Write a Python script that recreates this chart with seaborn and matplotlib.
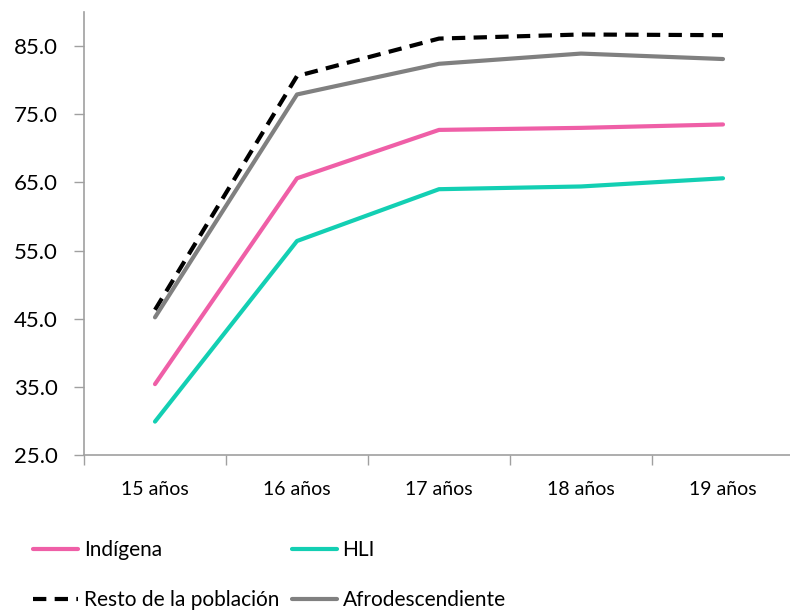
import matplotlib
matplotlib.use("Agg")
import matplotlib.pyplot as plt
import seaborn as sns
import pandas as pd
from matplotlib.ticker import FixedLocator

categories = ["15 años", "16 años", "17 años", "18 años", "19 años"]
indigena = [35.4, 65.6, 72.7, 73.0, 73.5]
hli = [29.9, 56.4, 64.0, 64.4, 65.6]
resto = [46.3, 80.6, 86.1, 86.7, 86.6]
afro = [45.2, 77.9, 82.4, 83.9, 83.1]
yticks = [25, 35, 45, 55, 65, 75, 85]

series_names = ["Indígena", "Resto de la población", "HLI", "Afrodescendiente"]
series_values = [indigena, resto, hli, afro]
colors = {"Indígena": "#EF5FA7", "HLI": "#13CFB3",
          "Resto de la población": "#000000", "Afrodescendiente": "#808080"}
dashes = {"Indígena": "", "HLI": "", "Resto de la población": (3.2, 2.0),
          "Afrodescendiente": ""}

rows = []
for name, vals in zip(series_names, series_values):
    for i, (c, v) in enumerate(zip(categories, vals)):
        rows.append({"pos": i, "cat": c, "serie": name, "valor": v})
df = pd.DataFrame(rows)

sns.set_theme(style="white")
plt.rcParams['font.family'] = ['Lato', 'DejaVu Sans']
plt.rcParams['text.color'] = '#000000'

fig = plt.figure(figsize=(7.9, 6.12), dpi=100)
ax = fig.add_axes([84/790, (612-455)/612, 710/790, (455-12)/612])

sns.lineplot(data=df, x="pos", y="valor", hue="serie", style="serie",
             hue_order=series_names, style_order=series_names,
             palette=colors, dashes=dashes, linewidth=3, ax=ax, legend=False)

ax.set_xlim(-0.5, 4.5)
ax.set_ylim(25, 90)
ax.set_yticks(yticks)
ax.set_yticklabels([f"{v:.1f}" for v in yticks], fontsize=16)
ax.set_xticks(range(5))
ax.set_xticklabels(categories, fontsize=14)
ax.xaxis.set_minor_locator(FixedLocator([-0.5, 0.5, 1.5, 2.5, 3.5, 4.5]))
ax.tick_params(axis="x", which="major", length=0, pad=19, labelcolor="#000000")
ax.tick_params(axis="x", which="minor", length=7, width=1, color="#A0A0A0", direction="out", bottom=True)
ax.tick_params(axis="y", which="major", length=7, width=1, color="#A0A0A0", direction="out", left=True, pad=12, labelcolor="#000000")
ax.set_xlabel("")
ax.set_ylabel("")
for s in ["top", "right"]:
    ax.spines[s].set_visible(False)
for s in ["left", "bottom"]:
    ax.spines[s].set_color("#A0A0A0")
    ax.spines[s].set_linewidth(1.2)
ax.grid(False)

handles = []
labels = []
for name in series_names:
    ln, = ax.plot([], [], color=colors[name], linewidth=3,
                  linestyle=(0, dashes[name]) if dashes[name] else "-")
    handles.append(ln)
    labels.append(name)

leg = fig.legend(handles, labels, ncol=2, loc="upper left",
                 bbox_to_anchor=(33/790, 1 - 540/612), frameon=False,
                 fontsize=15, handlelength=2.15, handletextpad=0.29,
                 columnspacing=0.6, labelspacing=1.43, borderaxespad=0,
                 borderpad=0)
for t in leg.get_texts():
    t.set_color("#000000")

fig.savefig("out.png", dpi=100)
